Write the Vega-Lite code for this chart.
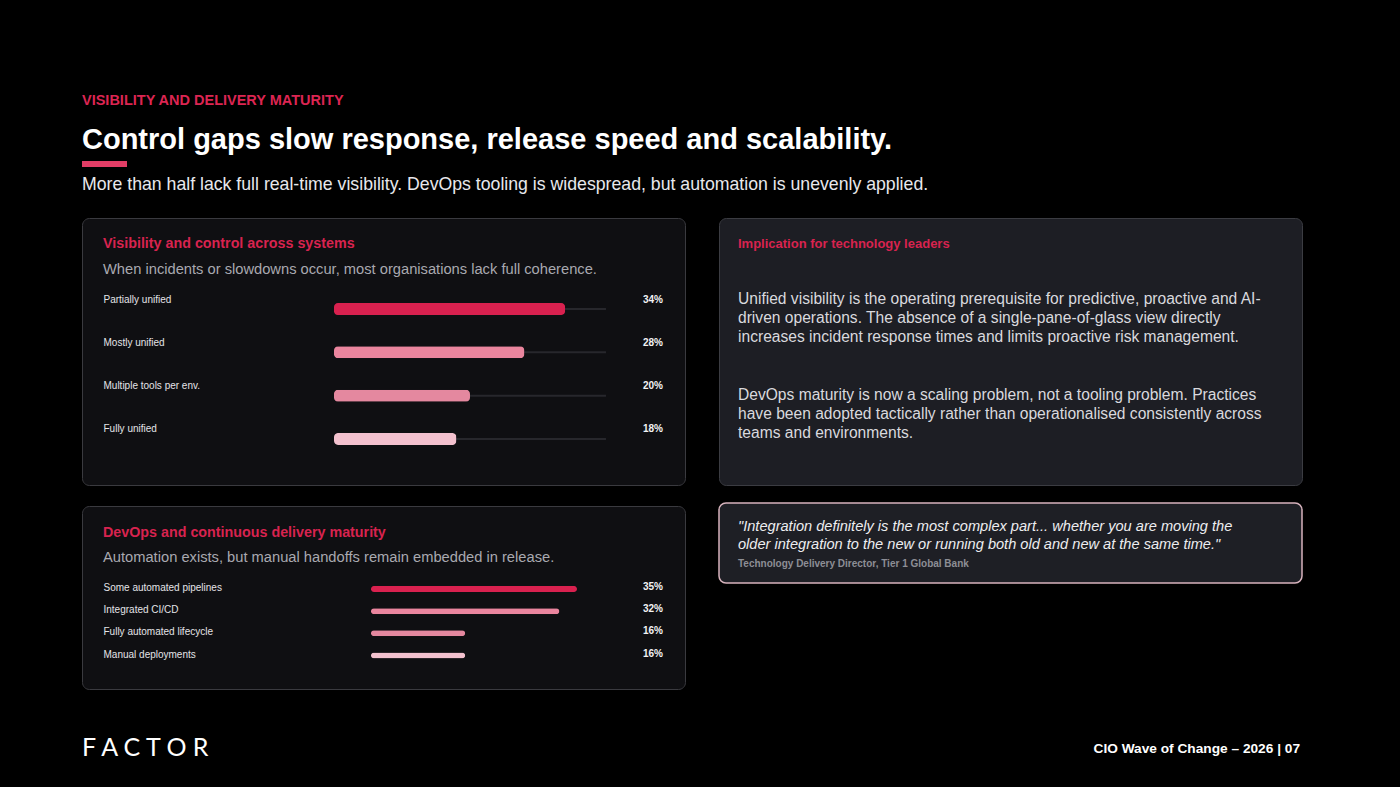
{
  "$schema": "https://vega.github.io/schema/vega-lite/v6.json",
  "background": "#000000",
  "padding": {"left": 81, "right": 98, "top": 92, "bottom": 31},
  "config": {
    "font": "Liberation Sans",
    "view": {"stroke": null},
    "title": {"anchor": "start", "frame": "group"}
  },
  "title": {"text": "VISIBILITY AND DELIVERY MATURITY", "color": "#dc2552", "fontSize": 14.5, "fontWeight": "bold", "offset": 18},
  "spacing": 8,
  "vconcat": [
    {
      "width": 45,
      "height": 6,
      "title": {"text": "Control gaps slow response, release speed and scalability.", "color": "#ffffff", "fontSize": 29, "fontWeight": "bold", "offset": 6},
      "data": {"values": [{"start": 0, "end": 1}]},
      "mark": {"type": "rect", "color": "#e23d66"},
      "encoding": {
        "x": {"field": "start", "type": "quantitative", "scale": {"domain": [0, 1]}, "axis": null},
        "x2": {"field": "end"}
      }
    },
    {
      "title": {"text": "More than half lack full real-time visibility. DevOps tooling is widespread, but automation is unevenly applied.", "color": "#e8e8ec", "fontSize": 17.7, "fontWeight": "normal", "offset": 24},
      "spacing": 45,
      "vconcat": [
        {
          "spacing": 32,
          "hconcat": [
            {
              "spacing": 19,
              "vconcat": [
                {
                  "width": 603,
                  "height": 267,
                  "view": {"fill": "#0f0f12", "stroke": "#3a3a3f", "strokeWidth": 1, "cornerRadius": 7},
                  "title": {"text": "Visibility and control across systems", "subtitle": "When incidents or slowdowns occur, most organisations lack full coherence.", "dx": 21, "offset": -59, "color": "#d8234f", "fontSize": 14.3, "fontWeight": "bold", "subtitleColor": "#a9a9b0", "subtitleFontSize": 14.7, "subtitlePadding": 11},
                  "data": {"values": [
                    {"response": "Partially unified", "share": 0.34},
                    {"response": "Mostly unified", "share": 0.28},
                    {"response": "Multiple tools per env.", "share": 0.20},
                    {"response": "Fully unified", "share": 0.18}
                  ]},
                  "encoding": {
                    "y": {"field": "response", "type": "nominal", "sort": null,
                      "scale": {"paddingInner": 0, "paddingOuter": 0, "range": [69.35, 242.65]},
                      "axis": {"title": null, "domain": false, "ticks": false, "tickSize": 0, "grid": false, "labelAlign": "left", "labelBaseline": "middle", "labelPadding": -21, "labelOffset": -9.5, "labelColor": "#e4e4e8", "labelFontSize": 10, "labelLimit": 300}}
                  },
                  "layer": [
                    {
                      "mark": {"type": "rule", "color": "#27272c", "strokeWidth": 2},
                      "encoding": {
                        "x": {"datum": 0, "type": "quantitative", "scale": {"domain": [-0.3706, 0.5162], "nice": false, "zero": false}, "axis": null},
                        "x2": {"datum": 0.40}
                      }
                    },
                    {
                      "mark": {"type": "bar", "size": 12, "cornerRadius": 4},
                      "encoding": {
                        "x": {"field": "share", "type": "quantitative", "scale": {"domain": [-0.3706, 0.5162], "nice": false, "zero": false}, "axis": null},
                        "color": {"field": "response", "type": "nominal", "sort": null, "scale": {"range": ["#d9214f", "#ea859e", "#e4889f", "#f3c1ce"]}, "legend": null}
                      }
                    },
                    {
                      "mark": {"type": "text", "align": "right", "baseline": "middle", "dx": -22, "dy": -9.5, "fontWeight": "bold", "fontSize": 10, "color": "#f2f2f4"},
                      "encoding": {
                        "x": {"value": "width"},
                        "text": {"field": "share", "type": "quantitative", "format": ".0%"}
                      }
                    }
                  ]
                },
                {
                  "width": 603,
                  "height": 183,
                  "view": {"fill": "#0f0f12", "stroke": "#3a3a3f", "strokeWidth": 1, "cornerRadius": 7},
                  "title": {"text": "DevOps and continuous delivery maturity", "subtitle": "Automation exists, but manual handoffs remain embedded in release.", "dx": 21, "offset": -59, "color": "#d8234f", "fontSize": 14.3, "fontWeight": "bold", "subtitleColor": "#a9a9b0", "subtitleFontSize": 14.7, "subtitlePadding": 10},
                  "data": {"values": [
                    {"practice": "Some automated pipelines", "share": 0.35},
                    {"practice": "Integrated CI/CD", "share": 0.32},
                    {"practice": "Fully automated lifecycle", "share": 0.16},
                    {"practice": "Manual deployments", "share": 0.16}
                  ]},
                  "encoding": {
                    "y": {"field": "practice", "type": "nominal", "sort": null,
                      "scale": {"paddingInner": 0, "paddingOuter": 0, "range": [71.9, 160.6]},
                      "axis": {"title": null, "domain": false, "ticks": false, "tickSize": 0, "grid": false, "labelAlign": "left", "labelBaseline": "middle", "labelPadding": -21, "labelOffset": -1, "labelColor": "#e4e4e8", "labelFontSize": 10, "labelLimit": 300}}
                  },
                  "layer": [
                    {
                      "mark": {"type": "bar", "size": 6, "cornerRadius": 3},
                      "encoding": {
                        "x": {"field": "share", "type": "quantitative", "scale": {"domain": [-0.491, 0.5335], "nice": false, "zero": false}, "axis": null},
                        "color": {"field": "practice", "type": "nominal", "sort": null, "scale": {"range": ["#d9214f", "#ea859e", "#e4889f", "#f3c1ce"]}, "legend": null}
                      }
                    },
                    {
                      "mark": {"type": "text", "align": "right", "baseline": "middle", "dx": -22, "dy": -2, "fontWeight": "bold", "fontSize": 10, "color": "#f2f2f4"},
                      "encoding": {
                        "x": {"value": "width"},
                        "text": {"field": "share", "type": "quantitative", "format": ".0%"}
                      }
                    }
                  ]
                }
              ]
            },
            {
              "spacing": 16,
              "vconcat": [
                {
                  "width": 583,
                  "height": 267,
                  "view": {"fill": "#1d1e24", "stroke": "#3b3c42", "strokeWidth": 1, "cornerRadius": 7},
                  "title": {
                    "text": "Implication for technology leaders",
                    "subtitle": [
                      "Unified visibility is the operating prerequisite for predictive, proactive and AI-",
                      "driven operations. The absence of a single-pane-of-glass view directly",
                      "increases incident response times and limits proactive risk management.",
                      "\u2800",
                      "\u2800",
                      "DevOps maturity is now a scaling problem, not a tooling problem. Practices",
                      "have been adopted tactically rather than operationalised consistently across",
                      "teams and environments."
                    ],
                    "dx": 19, "offset": -224, "color": "#d8234f", "fontSize": 13, "fontWeight": "bold",
                    "subtitleColor": "#d9d9de", "subtitleFontSize": 15.6, "subtitleLineHeight": 19.2, "subtitlePadding": 41.5
                  },
                  "data": {"values": [{}]},
                  "mark": {"type": "text"},
                  "encoding": {}
                },
                {
                  "width": 583,
                  "height": 80,
                  "view": {"fill": "#1e1f25", "stroke": "#d7b3bd", "strokeWidth": 1.5, "cornerRadius": 7},
                  "title": {
                    "text": ["\"Integration definitely is the most complex part... whether you are moving the", "older integration to the new or running both old and new at the same time.\""],
                    "subtitle": "Technology Delivery Director, Tier 1 Global Bank",
                    "dx": 19, "offset": -66, "color": "#ededf0", "fontSize": 14.6, "fontStyle": "italic", "fontWeight": "normal", "lineHeight": 18,
                    "subtitleColor": "#8d8e95", "subtitleFontSize": 10, "subtitleFontWeight": "bold", "subtitlePadding": 7.5
                  },
                  "data": {"values": [{}]},
                  "mark": {"type": "text"},
                  "encoding": {}
                }
              ]
            }
          ]
        },
        {
          "spacing": 32,
          "hconcat": [
            {
              "width": 603,
              "height": 1,
              "title": {"text": "F A C T O R", "font": "Lato", "fontSize": 25, "fontWeight": "normal", "color": "#ffffff", "offset": 0},
              "data": {"values": [{}]},
              "mark": {"type": "text"},
              "encoding": {}
            },
            {
              "width": 583,
              "height": 1,
              "title": {"text": "CIO Wave of Change – 2026 | 07", "anchor": "end", "fontSize": 13.7, "fontWeight": "bold", "color": "#ffffff", "offset": 5},
              "data": {"values": [{}]},
              "mark": {"type": "text"},
              "encoding": {}
            }
          ]
        }
      ]
    }
  ]
}
